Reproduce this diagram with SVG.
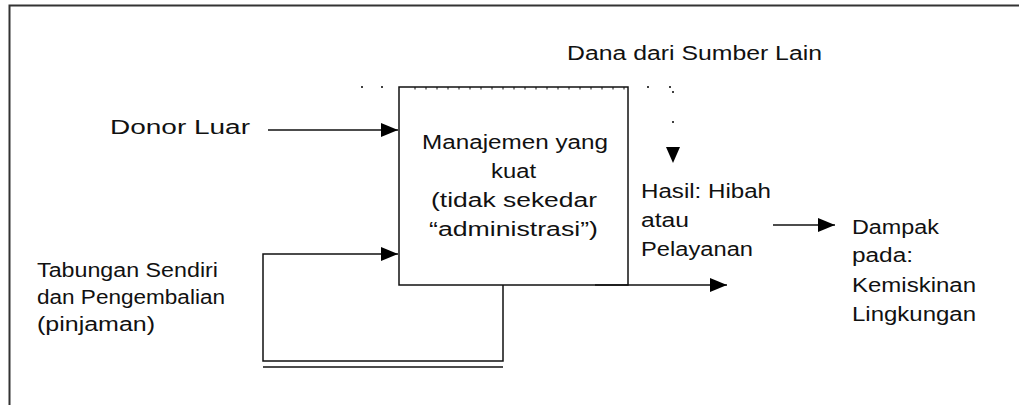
<svg xmlns="http://www.w3.org/2000/svg" width="1019" height="405" viewBox="0 0 1019 405">
<style>
.t{font-family:"Liberation Sans",Arial,sans-serif;font-size:20px;fill:#111}
.ln{stroke:#111;stroke-width:1.5;fill:none}
.fr{stroke:#333;stroke-width:2;fill:none}
</style>
<defs>
<marker id="ah" markerWidth="18" markerHeight="14" refX="17" refY="7" orient="auto" markerUnits="userSpaceOnUse">
<path d="M0,0 L17,7 L0,14 Z" fill="#000"/>
</marker>
</defs>
<rect width="1019" height="405" fill="#fff"/>
<path class="fr" d="M9.5,405 V5.5 H1019"/>

<g id="connectors">
<line class="ln" x1="268" y1="130" x2="398" y2="130" marker-end="url(#ah)"/>
<path class="ln" d="M503,285 V361 H263 V254 H398" marker-end="url(#ah)"/>
<line class="ln" x1="263" y1="367" x2="503" y2="367"/>
<line class="ln" x1="595" y1="285" x2="727" y2="285" marker-end="url(#ah)"/>
<line class="ln" x1="773" y1="225" x2="835" y2="225" marker-end="url(#ah)"/>
<g fill="#000">
<circle cx="362" cy="87" r="1"/>
<circle cx="382" cy="87" r="1"/>
<circle cx="648" cy="87" r="1"/>
<circle cx="670" cy="87" r="1"/>
<circle cx="673" cy="92" r="1"/>
<circle cx="673" cy="122" r="1"/>
<path d="M666,147 L680,147 L673,163 Z"/>
</g>
</g>

<g id="box">
<rect class="ln" x="399" y="87" width="229" height="198"/>
<path stroke="#111" stroke-width="1" d="M415,87v2.5M426,87v2.5M437,87v2.5M448,87v2.5M459,87v2.5M470,87v2.5M481,87v2.5M492,87v2.5M503,87v2.5M514,87v2.5M525,87v2.5M536,87v2.5M547,87v2.5M558,87v2.5M569,87v2.5M580,87v2.5M591,87v2.5M602,87v2.5M613,87v2.5M624,87v2.5"/>
<text class="t" x="422" y="149" textLength="186" lengthAdjust="spacingAndGlyphs">Manajemen yang</text>
<text class="t" x="491" y="178" textLength="45" lengthAdjust="spacingAndGlyphs">kuat</text>
<text class="t" x="431" y="207" textLength="166" lengthAdjust="spacingAndGlyphs">(tidak sekedar</text>
<text class="t" x="429" y="236" textLength="169" lengthAdjust="spacingAndGlyphs">“administrasi”)</text>
</g>

<g id="dana">
<text class="t" x="567" y="60" textLength="255" lengthAdjust="spacingAndGlyphs">Dana dari Sumber Lain</text>
</g>
<g id="donor">
<text class="t" x="110" y="134" textLength="140" lengthAdjust="spacingAndGlyphs">Donor Luar</text>
</g>
<g id="tabungan">
<text class="t" x="37" y="277" textLength="181" lengthAdjust="spacingAndGlyphs">Tabungan Sendiri</text>
<text class="t" x="37" y="304" textLength="188" lengthAdjust="spacingAndGlyphs">dan Pengembalian</text>
<text class="t" x="37" y="331" textLength="118" lengthAdjust="spacingAndGlyphs">(pinjaman)</text>
</g>
<g id="hasil">
<text class="t" x="641" y="198" textLength="130" lengthAdjust="spacingAndGlyphs">Hasil: Hibah</text>
<text class="t" x="641" y="227" textLength="48" lengthAdjust="spacingAndGlyphs">atau</text>
<text class="t" x="641" y="256" textLength="112" lengthAdjust="spacingAndGlyphs">Pelayanan</text>
</g>
<g id="dampak">
<text class="t" x="852" y="234" textLength="87" lengthAdjust="spacingAndGlyphs">Dampak</text>
<text class="t" x="852" y="262" textLength="61" lengthAdjust="spacingAndGlyphs">pada:</text>
<text class="t" x="852" y="292" textLength="124" lengthAdjust="spacingAndGlyphs">Kemiskinan</text>
<text class="t" x="852" y="321" textLength="124" lengthAdjust="spacingAndGlyphs">Lingkungan</text>
</g>
</svg>
